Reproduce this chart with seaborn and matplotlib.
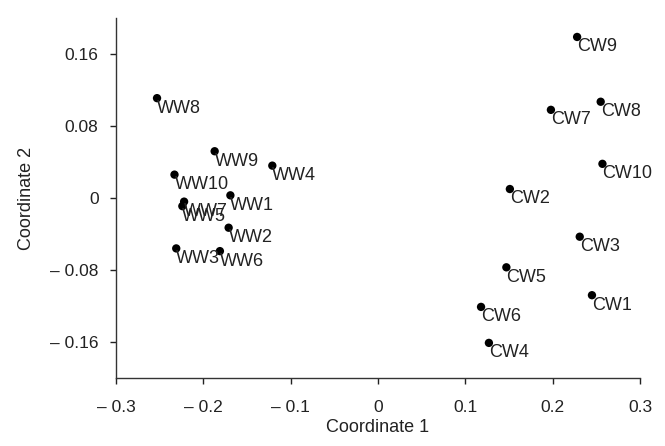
import numpy as np
import pandas as pd
import seaborn as sns
import matplotlib.pyplot as plt

sns.set_style("ticks")
plt.rcParams['font.family'] = ['Liberation Sans', 'DejaVu Sans']

# MDS coordinates
labels = ['WW1', 'WW2', 'WW3', 'WW4', 'WW5', 'WW6', 'WW7', 'WW8', 'WW9', 'WW10',
          'CW1', 'CW2', 'CW3', 'CW4', 'CW5', 'CW6', 'CW7', 'CW8', 'CW9', 'CW10']
coord1 = [-0.169, -0.171, -0.231, -0.121, -0.224, -0.181, -0.222, -0.253, -0.187, -0.233,
          0.245, 0.151, 0.231, 0.127, 0.147, 0.118, 0.198, 0.255, 0.228, 0.257]
coord2 = [0.003, -0.033, -0.056, 0.036, -0.009, -0.059, -0.004, 0.111, 0.052, 0.026,
          -0.108, 0.010, -0.043, -0.161, -0.077, -0.121, 0.098, 0.107, 0.179, 0.038]

xticks = [-0.3, -0.2, -0.1, 0, 0.1, 0.2, 0.3]
xtick_labels = ['\u2013 0.3', '\u2013 0.2', '\u2013 0.1', '0', '0.1', '0.2', '0.3']
yticks = [-0.16, -0.08, 0, 0.08, 0.16]
ytick_labels = ['\u2013 0.16', '\u2013 0.08', '0', '0.08', '0.16']

df = pd.DataFrame({'label': labels, 'Coordinate 1': coord1, 'Coordinate 2': coord2})

fig = plt.figure(figsize=(6.65, 4.46), dpi=100)
ax = fig.add_axes([0.1744, 0.1525, 0.788, 0.807])

sns.scatterplot(data=df, x='Coordinate 1', y='Coordinate 2', ax=ax,
                color='black', s=36, edgecolor='none')

for _, row in df.iterrows():
    ax.annotate(row['label'], (row['Coordinate 1'], row['Coordinate 2']),
                xytext=(0, -1), textcoords='offset points',
                ha='left', va='top', fontsize=13, color='#222222')

ax.set_xlim(-0.3, 0.3)
ax.set_ylim(-0.2, 0.2)
ax.set_xticks(xticks)
ax.set_xticklabels(xtick_labels)
ax.set_yticks(yticks)
ax.set_yticklabels(ytick_labels)
ax.tick_params(labelsize=12.5, length=4.5, width=1, colors='#222222')
ax.tick_params(axis='x', pad=11)
ax.tick_params(axis='y', pad=8)
ax.set_xlabel('Coordinate 1', fontsize=13, color='#222222', labelpad=3)
ax.set_ylabel('Coordinate 2', fontsize=13, color='#222222', labelpad=11)
for side in ['left', 'bottom']:
    ax.spines[side].set_color('#333333')
    ax.spines[side].set_linewidth(1)
sns.despine(ax=ax)

fig.savefig('out.png', dpi=100)
